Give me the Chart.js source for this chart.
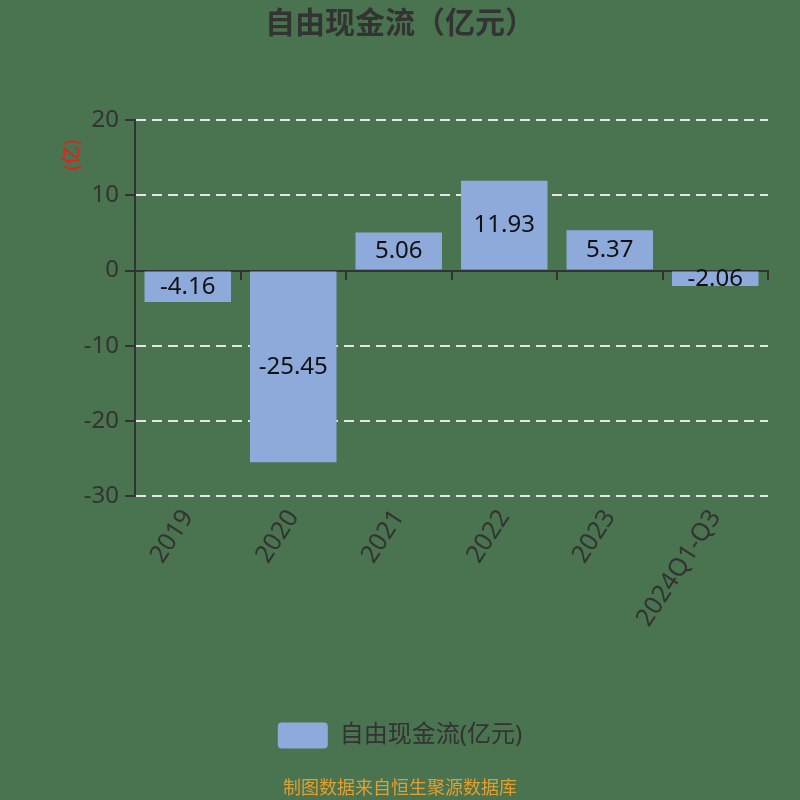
<!DOCTYPE html>
<html>
<head>
<meta charset="utf-8">
<script src="https://cdn.jsdelivr.net/npm/chart.js@4"></script>
<style>
  html, body { margin: 0; padding: 0; background: #4a7350; }
  canvas { display: block; }
</style>
</head>
<body>
<canvas id="myChart" width="800" height="800"></canvas>
<script>
const categories = ['2019', '2020', '2021', '2022', '2023', '2024Q1-Q3'];
const freeCashFlow = [-4.16, -25.45, 5.06, 11.93, 5.37, -2.06];
const yTicks = [20, 10, 0, -10, -20, -30];
const unitLabel = '(亿)';

const FONT = "'Noto Sans', 'Noto Sans CJK SC', sans-serif";
const TEXT = '#333333';

// value labels in the middle of each bar
const barLabels = {
  id: 'barLabels',
  afterDatasetsDraw(chart) {
    const ctx = chart.ctx;
    const meta = chart.getDatasetMeta(0);
    ctx.save();
    ctx.font = '24px ' + FONT;
    ctx.fillStyle = '#111111';
    ctx.textAlign = 'center';
    ctx.textBaseline = 'middle';
    meta.data.forEach((bar, i) => {
      const mid = (bar.y + bar.base) / 2;
      ctx.fillText(freeCashFlow[i].toFixed(2), bar.x, mid);
    });
    ctx.restore();
  }
};

// red unit label, rotated, next to the top of the y axis
const unitTitle = {
  id: 'unitTitle',
  afterDraw(chart) {
    const ctx = chart.ctx;
    const area = chart.chartArea;
    ctx.save();
    ctx.translate(area.left - 62, area.top + 35);
    ctx.rotate(-Math.PI / 2);
    ctx.font = '19px ' + FONT;
    ctx.fillStyle = '#e0201a';
    ctx.textAlign = 'center';
    ctx.textBaseline = 'middle';
    ctx.fillText(unitLabel, 0, 0);
    ctx.restore();
  }
};

new Chart(document.getElementById('myChart').getContext('2d'), {
  type: 'bar',
  data: {
    labels: categories,
    datasets: [{
      label: '自由现金流(亿元)',
      data: freeCashFlow,
      backgroundColor: '#8eaadb',
      borderWidth: 0,
      barPercentage: 0.82,
      categoryPercentage: 1.0,
      xAxisID: 'x'
    }]
  },
  options: {
    responsive: false,
    animation: false,
    scales: {
      x: {
        position: 'bottom',
        grid: { display: false },
        border: { display: false },
        ticks: {
          color: TEXT,
          font: { family: FONT, size: 25 },
          minRotation: 57,
          maxRotation: 57,
          padding: 0
        },
        afterFit: (scale) => { scale.height = 216; }
      },
      x2: {
        type: 'category',
        labels: categories,
        position: { y: 0 },
        offset: true,
        grid: {
          offset: true,
          drawOnChartArea: false,
          drawTicks: true,
          tickLength: 8,
          tickColor: TEXT,
          lineWidth: 2
        },
        border: { display: true, color: TEXT, width: 2 },
        ticks: { display: false }
      },
      y: {
        min: -30,
        max: 20,
        afterBuildTicks: (scale) => { scale.ticks = yTicks.map(v => ({ value: v })); },
        afterFit: (scale) => { scale.width = 135; },
        border: { display: true, color: TEXT, width: 2, dash: [10, 6] },
        grid: {
          color: (c) => c.tick && c.tick.value === 0 ? 'rgba(0,0,0,0)' : '#e6e6e6',
          lineWidth: 2,
          tickLength: 10,
          tickColor: TEXT,
          tickBorderDash: [],
          tickWidth: 2
        },
        ticks: {
          color: TEXT,
          font: { family: FONT, size: 24 },
          padding: 6
        }
      },
      // empty right axis, only keeps a margin on the right of the plot
      yRight: {
        type: 'linear',
        position: 'right',
        grid: { display: false },
        border: { display: false },
        ticks: { display: false },
        afterFit: (scale) => { scale.width = 32; }
      }
    },
    plugins: {
      title: {
        display: true,
        text: '自由现金流（亿元）',
        color: TEXT,
        font: { family: FONT, size: 30, weight: 'bold' },
        padding: { top: 6, bottom: 78 }
      },
      subtitle: {
        display: true,
        position: 'bottom',
        text: '制图数据来自恒生聚源数据库',
        color: '#e0a030',
        font: { family: FONT, size: 18 },
        padding: { top: 20, bottom: 0 }
      },
      legend: {
        position: 'bottom',
        labels: {
          color: TEXT,
          font: { family: FONT, size: 24 },
          boxWidth: 50,
          boxHeight: 26,
          useBorderRadius: true,
          borderRadius: 4,
          padding: 10
        }
      },
      tooltip: { enabled: false }
    }
  },
  plugins: [barLabels, unitTitle]
});
</script>
</body>
</html>
